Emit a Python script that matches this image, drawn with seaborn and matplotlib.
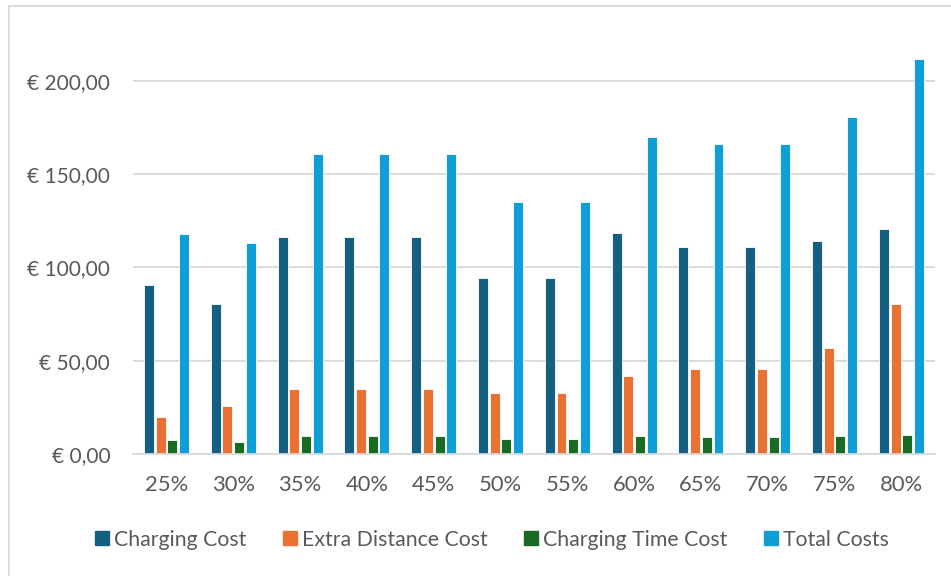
import matplotlib
matplotlib.use("Agg")
import matplotlib.pyplot as plt
from matplotlib.patches import Rectangle
from matplotlib.lines import Line2D
import seaborn as sns
import pandas as pd

# Battery threshold categories and cost components (EUR)
categories = ["25%", "30%", "35%", "40%", "45%", "50%", "55%", "60%", "65%", "70%", "75%", "80%"]
charging_cost = [90.4, 80.5, 116.5, 116.5, 116.5, 94.3, 94.3, 118.3, 110.8, 110.8, 114.0, 120.8]
extra_distance_cost = [19.8, 25.7, 34.7, 34.7, 34.7, 32.7, 32.7, 41.8, 45.6, 45.6, 56.8, 80.5]
charging_time_cost = [7.5, 6.6, 9.8, 9.8, 9.8, 7.9, 7.9, 9.8, 9.1, 9.1, 9.5, 10.0]
total_costs = [117.9, 113.2, 161.0, 161.0, 161.0, 135.0, 135.0, 170.0, 166.0, 166.0, 180.4, 211.9]

series_names = ["Charging Cost", "Extra Distance Cost", "Charging Time Cost", "Total Costs"]
series_values = [charging_cost, extra_distance_cost, charging_time_cost, total_costs]
colors = ["#156082", "#E97132", "#196B24", "#0F9ED5"]

rows = []
for name, vals in zip(series_names, series_values):
    for cat, v in zip(categories, vals):
        rows.append({"Threshold": cat, "Cost": v, "Series": name})
df = pd.DataFrame(rows)

sns.set_theme(style="white")
plt.rcParams["font.family"] = ["Lato", "DejaVu Sans"]
text_color = "#595959"
grid_color = "#D9D9D9"

fig = plt.figure(figsize=(9.51, 5.76), dpi=100)
ax = fig.add_axes([0.1399, 0.2118, 0.8431, 0.7288])

sns.barplot(data=df, x="Threshold", y="Cost", hue="Series", order=categories,
            hue_order=series_names, palette=colors, width=0.70, gap=0.15,
            edgecolor="white", linewidth=0.6, saturation=1, errorbar=None,
            legend=False, ax=ax)

ax.set_ylim(0, 225)
ax.set_xlim(-0.5, len(categories) - 0.5)
yticks = [0, 50, 100, 150, 200]
ax.set_yticks(yticks)
ax.set_yticklabels([("€ %.2f" % v).replace(".", ",") for v in yticks])
ax.set_xlabel("")
ax.set_ylabel("")

ax.yaxis.grid(True, color=grid_color, linewidth=1.3)
ax.set_axisbelow(True)
for side in ["top", "right", "left"]:
    ax.spines[side].set_visible(False)
ax.spines["bottom"].set_color(grid_color)
ax.spines["bottom"].set_linewidth(1.3)

ax.tick_params(axis="y", length=0, pad=16.5, labelsize=15, labelcolor=text_color)
ax.tick_params(axis="x", length=0, pad=15, labelsize=15.8, labelcolor=text_color)

handles = [Line2D([0], [0], marker="s", linestyle="none", markersize=10,
                  markerfacecolor=c, markeredgecolor=c) for c in colors]
fig.legend(handles, series_names, loc="center", bbox_to_anchor=(0.516, 0.063),
           ncol=4, frameon=False, fontsize=15.3, labelcolor=text_color,
           handletextpad=0.1, columnspacing=1.62, handlelength=0.9)

# chart frame
fig.patches.append(Rectangle((9 / 951, -0.01), 1.1, 1 - 6 / 576 + 0.01,
                             transform=fig.transFigure, fill=False,
                             edgecolor="#D9D9D9", linewidth=1.3))

fig.savefig("out.png", dpi=100, facecolor="white")
